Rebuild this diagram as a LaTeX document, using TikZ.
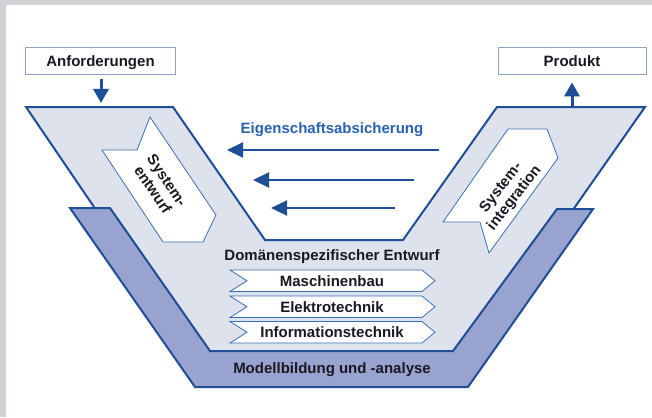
\documentclass[tikz,border=0pt]{standalone}
\usepackage{fontspec}
\setmainfont{Liberation Sans}
\usetikzlibrary{arrows.meta}
\definecolor{vline}{RGB}{30,78,150}
\definecolor{vfill}{RGB}{222,226,237}
\definecolor{bandfill}{RGB}{152,163,208}
\definecolor{framegray}{RGB}{210,211,214}
\definecolor{thinblue}{RGB}{60,110,180}
\definecolor{boxline}{RGB}{140,160,200}
\definecolor{txt}{RGB}{25,25,35}
\definecolor{bluetxt}{RGB}{40,98,172}
\begin{document}
\begin{tikzpicture}[x=1pt,y=-1pt,
  lbl/.style={font=\fontsize{15}{17}\selectfont\bfseries, text=txt, inner sep=0pt},
  bluelbl/.style={lbl, text=bluetxt},
  vshape/.style={draw=vline, line width=2pt, line join=miter, fill=vfill},
  bandshape/.style={draw=vline, line width=2pt, line join=miter, fill=bandfill},
  flowshape/.style={draw=thinblue, line width=0.8pt, fill=white, line join=miter},
  iobox/.style={draw=boxline, line width=0.8pt, fill=white, minimum width=150pt, minimum height=27pt, inner sep=0pt},
  fbarrow/.style={draw=vline, line width=2pt, -{Triangle[length=16pt,width=15pt]}},
  ioarrow/.style={draw=vline, line width=3pt, -{Triangle[length=14pt,width=15pt]}}
]
\useasboundingbox (0,0) rectangle (652,417);
\fill[framegray] (0,0) rectangle (652,417);
\fill[white] (6,5.5) rectangle (652,417);

% light V
\path[vshape] (26,107) -- (173,107) -- (265,240) -- (403,240) -- (497,107) -- (645,107) -- (474,351) -- (192,351) -- cycle;
% dark band
\path[bandshape] (70,208) -- (110,208) -- (210,351) -- (453,351) -- (557,209) -- (593,209) -- (468,387) -- (195,387) -- cycle;

% boxes
\node[iobox] (anf) at (100.5,60.5) {};
\node[lbl, anchor=base] (anftxt) at (100.5,66.5) {Anforderungen};
\node[iobox, minimum width=148pt] (prod) at (572,60.5) {};
\node[lbl, anchor=base] (prodtxt) at (572,66.5) {Produkt};

\coordinate (vtopL) at (101,103);
\coordinate (vtopR) at (572,106);
\draw[ioarrow, shorten <=5pt] (anf.south -| vtopL) -- (vtopL);
\draw[ioarrow, shorten >=8pt] (vtopR) -- (prod.south -| vtopR);

% feedback arrows
\node[bluelbl, anchor=base] (eig) at (332,133) {Eigenschaftsabsicherung};
\coordinate (e1s) at (439,150); \coordinate (e1t) at (227,150);
\coordinate (e2s) at (414,180); \coordinate (e2t) at (253,180);
\coordinate (e3s) at (395,208); \coordinate (e3t) at (271,208);
\draw[fbarrow] (e1s) -- (e1t);
\draw[fbarrow] (e2s) -- (e2t);
\draw[fbarrow] (e3s) -- (e3t);

% system design chevron
\path[flowshape] (150,117) -- (137,150) -- (102,150) -- (163,242) -- (203,242) -- (216,215) -- cycle;
\node[lbl, align=center, rotate=-56] (sysent) at (160,185) {System-\\entwurf};
% system integration chevron
\path[flowshape] (508,129) -- (547,129) -- (558,158) -- (489,253) -- (480,222) -- (443,222) -- cycle;
\node[lbl, align=center, rotate=52] (sysint) at (508,193) {System-\\integration};

% domain design
\node[lbl, anchor=base] (dom) at (332,260) {Domänenspezifischer Entwurf};
\foreach \t/\n/\lab in {270/mb/Maschinenbau, 296/et/Elektrotechnik, 321.5/it/Informationstechnik}{
  \path[flowshape] (230,\t) -- (422,\t) -- (435,\t+10.75) -- (422,\t+21.5) -- (230,\t+21.5) -- (247,\t+10.75) -- cycle;
  \node[lbl, anchor=base] (\n) at (332,\t+16.2) {\lab};
}
\node[lbl, anchor=base] (mod) at (332,373.5) {Modellbildung und -analyse};
\end{tikzpicture}
\end{document}
